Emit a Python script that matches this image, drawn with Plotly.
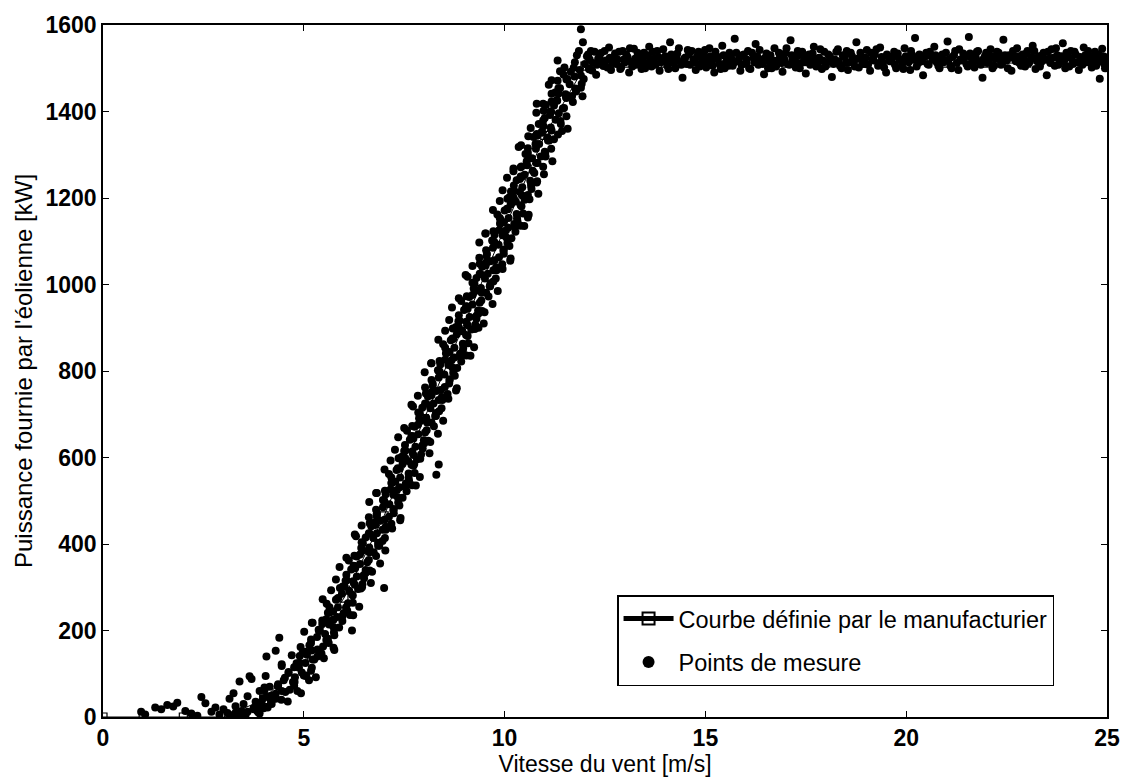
import plotly.graph_objects as go

# Manufacturer power curve (integer wind speeds, m/s -> kW)
curve_ws = list(range(0, 26))
curve_kw = [0, 0, 0, 0, 40, 140, 275, 465, 690, 910, 1130, 1345, 1505,
            1512, 1512, 1512, 1512, 1512, 1512, 1512, 1512, 1512, 1512, 1512, 1512, 1512]

# Measured points, low wind (cut-in zone)
low_ws = [0.95, 1.05, 1.3, 1.45, 1.6, 1.75, 1.85, 2.05, 2.2, 2.35, 2.45, 2.55, 2.7, 2.8,
          2.9, 3.0, 3.1, 3.15, 3.25, 3.3, 3.4, 3.45, 3.5, 3.55, 3.6, 3.65, 3.7, 3.75, 3.8,
          3.85, 3.9, 3.95, 4.0, 4.05, 4.1, 4.15, 4.2, 4.3, 4.39, 4.07, 4.84, 5.3, 3.2, 3.35,
          3.3, 3.45, 3.6, 3.75, 3.85, 3.95, 4.1, 4.2, 4.3, 4.45, 3.9, 4.0]
low_kw = [12, 6, 22, 18, 28, 24, 33, 14, 8, 3, 46, 32, 12, 22,
          6, 18, 9, 42, 55, 25, 82, 14, 30, 5, 48, 94, 88, 20, 35,
          12, 60, 28, 44, 95, 22, 70, 38, 153, 183, 140, 60, 92, 4, 2,
          10, 8, 12, 18, 25, 35, 48, 30, 42, 60, 8, 20]

# Measured points, rising part of the curve (first pass)
rise_ws = [
    4.02, 4.18, 4.30, 4.44, 4.60, 4.35, 4.50, 4.65, 4.77, 4.93,
    4.45, 4.62, 4.78, 4.88, 5.00, 4.76, 4.90, 5.04, 5.18, 5.26,
    4.92, 5.08, 5.20, 5.34, 5.50, 5.18, 5.33, 5.48, 5.60, 5.76,
    5.20, 5.37, 5.53, 5.63, 5.75, 5.46, 5.60, 5.74, 5.88, 5.96,
    5.57, 5.73, 5.85, 5.99, 6.15, 5.80, 5.95, 6.10, 6.22, 6.38,
    5.80, 5.97, 6.13, 6.23, 6.35, 6.04, 6.18, 6.32, 6.46, 6.54,
    6.12, 6.28, 6.40, 6.54, 6.70, 6.32, 6.47, 6.62, 6.74, 6.90,
    6.30, 6.47, 6.63, 6.73, 6.85, 6.54, 6.68, 6.82, 6.96, 7.04,
    6.62, 6.78, 6.90, 7.04, 7.20, 6.82, 6.97, 7.12, 7.24, 7.40,
    6.80, 6.97, 7.13, 7.23, 7.35, 7.04, 7.18, 7.32, 7.46, 7.54,
    7.12, 7.28, 7.40, 7.54, 7.70, 7.31, 7.46, 7.61, 7.73, 7.89,
    7.27, 7.44, 7.60, 7.70, 7.82, 7.50, 7.64, 7.78, 7.92, 8.00,
    7.57, 7.73, 7.85, 7.99, 8.15, 7.76, 7.91, 8.06, 8.18, 8.34,
    7.72, 7.89, 8.05, 8.15, 8.27, 7.95, 8.09, 8.23, 8.37, 8.45,
    8.02, 8.18, 8.30, 8.44, 8.60, 8.21, 8.36, 8.51, 8.63, 8.79,
    8.17, 8.34, 8.50, 8.60, 8.72, 8.40, 8.54, 8.68, 8.82, 8.90,
    8.47, 8.63, 8.75, 8.89, 9.05, 8.66, 8.81, 8.96, 9.08, 9.24,
    8.62, 8.79, 8.95, 9.05, 9.17, 8.85, 8.99, 9.13, 9.27, 9.35,
    8.92, 9.08, 9.20, 9.34, 9.50, 9.12, 9.27, 9.42, 9.54, 9.70,
    9.08, 9.25, 9.41, 9.51, 9.63, 9.30, 9.44, 9.58, 9.72, 9.80,
    9.37, 9.53, 9.65, 9.79, 9.95, 9.56, 9.71, 9.86, 9.98, 10.14,
    9.52, 9.69, 9.85, 9.95, 10.07, 9.75, 9.89, 10.03, 10.17, 10.25,
    9.82, 9.98, 10.10, 10.24, 10.40, 10.00, 10.15, 10.30, 10.42, 10.58,
    9.95, 10.12, 10.28, 10.38, 10.50, 10.16, 10.30, 10.44, 10.58, 10.66,
    10.22, 10.38, 10.50, 10.64, 10.80, 10.40, 10.55, 10.70, 10.82, 10.98,
    10.35, 10.52, 10.68, 10.78, 10.90, 10.58, 10.72, 10.86, 11.00, 11.08,
    10.65, 10.81, 10.93, 11.07, 11.23, 10.85, 11.00, 11.15, 11.27, 11.43,
    10.80, 10.97, 11.13, 11.23, 11.35, 11.03, 11.17, 11.31, 11.45, 11.53,
    11.10, 11.26, 11.38, 11.52, 11.68, 11.32, 11.47, 11.62, 11.74, 11.90,
    11.32, 11.49, 11.65, 11.75, 11.87, 11.90, 11.95, 11.85, 11.80, 11.97,
    7.00, 8.36, 8.30, 6.20, 10.60, 9.90, 5.05, 7.75, 6.45, 9.35,
]
rise_kw = [
    62, 44, 54, 40, 36, 71, 85, 63, 81, 55,
    118, 102, 92, 114, 96, 115, 141, 125, 107, 133,
    162, 144, 154, 140, 136, 171, 185, 163, 181, 155,
    218, 202, 192, 214, 196, 215, 241, 225, 207, 233,
    262, 244, 254, 240, 236, 271, 285, 263, 281, 255,
    318, 302, 292, 314, 296, 315, 341, 325, 307, 333,
    362, 344, 354, 340, 336, 371, 385, 363, 381, 355,
    418, 402, 392, 414, 396, 415, 441, 425, 407, 433,
    462, 444, 454, 440, 436, 471, 485, 463, 481, 455,
    518, 502, 492, 514, 496, 515, 541, 525, 507, 533,
    562, 544, 554, 540, 536, 571, 585, 563, 581, 555,
    618, 602, 592, 614, 596, 615, 641, 625, 607, 633,
    662, 644, 654, 640, 636, 671, 685, 663, 681, 655,
    718, 702, 692, 714, 696, 715, 741, 725, 707, 733,
    762, 744, 754, 740, 736, 771, 785, 763, 781, 755,
    818, 802, 792, 814, 796, 815, 841, 825, 807, 833,
    862, 844, 854, 840, 836, 871, 885, 863, 881, 855,
    918, 902, 892, 914, 896, 915, 941, 925, 907, 933,
    962, 944, 954, 940, 936, 971, 985, 963, 981, 955,
    1018, 1002, 992, 1014, 996, 1015, 1041, 1025, 1007, 1033,
    1062, 1044, 1054, 1040, 1036, 1071, 1085, 1063, 1081, 1055,
    1118, 1102, 1092, 1114, 1096, 1115, 1141, 1125, 1107, 1133,
    1162, 1144, 1154, 1140, 1136, 1171, 1185, 1163, 1181, 1155,
    1218, 1202, 1192, 1214, 1196, 1215, 1241, 1225, 1207, 1233,
    1262, 1244, 1254, 1240, 1236, 1271, 1285, 1263, 1281, 1255,
    1318, 1302, 1292, 1314, 1296, 1315, 1341, 1325, 1307, 1333,
    1362, 1344, 1354, 1340, 1336, 1371, 1385, 1363, 1381, 1355,
    1418, 1402, 1392, 1414, 1396, 1415, 1441, 1425, 1407, 1433,
    1462, 1444, 1454, 1440, 1436, 1471, 1485, 1463, 1481, 1455,
    1518, 1502, 1492, 1514, 1496, 1590, 1560, 1540, 1530, 1475,
    298, 584, 560, 200, 1161, 1150, 95, 585, 300, 900,
]

# Measured points, rising part of the curve (second pass)
rise2_ws = [
    4.02, 4.20, 4.36, 4.54, 4.76, 4.36, 4.53, 4.73, 4.95, 5.13,
    4.45, 4.62, 4.82, 5.06, 5.20, 4.70, 4.88, 5.04, 5.22, 5.44,
    4.97, 5.14, 5.34, 5.56, 5.74, 5.01, 5.18, 5.38, 5.62, 5.76,
    5.22, 5.40, 5.56, 5.74, 5.96, 5.46, 5.63, 5.83, 6.05, 6.23,
    5.47, 5.64, 5.84, 6.08, 6.22, 5.68, 5.86, 6.02, 6.20, 6.42,
    5.90, 6.07, 6.27, 6.49, 6.67, 5.89, 6.06, 6.26, 6.50, 6.64,
    6.06, 6.24, 6.40, 6.58, 6.80, 6.26, 6.43, 6.63, 6.85, 7.03,
    6.27, 6.44, 6.64, 6.88, 7.02, 6.44, 6.62, 6.78, 6.96, 7.18,
    6.64, 6.81, 7.01, 7.23, 7.41, 6.63, 6.80, 7.00, 7.24, 7.38,
    6.82, 7.00, 7.16, 7.34, 7.56, 7.02, 7.19, 7.39, 7.61, 7.79,
    7.01, 7.18, 7.38, 7.62, 7.76, 7.16, 7.34, 7.50, 7.68, 7.90,
    7.36, 7.53, 7.73, 7.95, 8.13, 7.35, 7.52, 7.72, 7.96, 8.10,
    7.50, 7.68, 7.84, 8.02, 8.24, 7.70, 7.87, 8.07, 8.29, 8.47,
    7.68, 7.85, 8.05, 8.29, 8.43, 7.84, 8.02, 8.18, 8.36, 8.58,
    8.04, 8.21, 8.41, 8.63, 8.81, 8.01, 8.18, 8.38, 8.62, 8.76,
    8.18, 8.36, 8.52, 8.70, 8.92, 8.38, 8.55, 8.75, 8.97, 9.15,
    8.35, 8.52, 8.72, 8.96, 9.10, 8.52, 8.70, 8.86, 9.04, 9.26,
    8.71, 8.88, 9.08, 9.30, 9.48, 8.69, 8.86, 9.06, 9.30, 9.44,
    8.86, 9.04, 9.20, 9.38, 9.60, 9.06, 9.23, 9.43, 9.65, 9.83,
    9.03, 9.20, 9.40, 9.64, 9.78, 9.20, 9.38, 9.54, 9.72, 9.94,
    9.38, 9.55, 9.75, 9.97, 10.15, 9.37, 9.54, 9.74, 9.98, 10.12,
    9.53, 9.71, 9.87, 10.05, 10.27, 9.72, 9.89, 10.09, 10.31, 10.49,
    9.71, 9.88, 10.08, 10.32, 10.46, 9.88, 10.06, 10.22, 10.40, 10.62,
    10.07, 10.24, 10.44, 10.66, 10.84, 10.06, 10.23, 10.43, 10.67, 10.81,
    10.22, 10.40, 10.56, 10.74, 10.96, 10.42, 10.59, 10.79, 11.01, 11.19,
    10.41, 10.58, 10.78, 11.02, 11.16, 10.59, 10.77, 10.93, 11.11, 11.33,
    10.80, 10.97, 11.17, 11.39, 11.57, 10.79, 10.96, 11.16, 11.40, 11.54,
    10.96, 11.14, 11.30, 11.48, 11.70, 11.17, 11.34, 11.54, 11.76, 11.94,
    11.17, 11.34, 11.54, 11.78, 11.92, 11.38, 11.56, 11.72, 11.90, 12.12,
]
rise2_kw = [
    68, 50, 76, 58, 72, 73, 91, 81, 103, 85,
    122, 104, 124, 96, 114, 143, 125, 151, 133, 147,
    148, 166, 156, 178, 160, 197, 179, 199, 171, 189,
    218, 200, 226, 208, 222, 223, 241, 231, 253, 235,
    272, 254, 274, 246, 264, 293, 275, 301, 283, 297,
    298, 316, 306, 328, 310, 347, 329, 349, 321, 339,
    368, 350, 376, 358, 372, 373, 391, 381, 403, 385,
    422, 404, 424, 396, 414, 443, 425, 451, 433, 447,
    448, 466, 456, 478, 460, 497, 479, 499, 471, 489,
    518, 500, 526, 508, 522, 523, 541, 531, 553, 535,
    572, 554, 574, 546, 564, 593, 575, 601, 583, 597,
    598, 616, 606, 628, 610, 647, 629, 649, 621, 639,
    668, 650, 676, 658, 672, 673, 691, 681, 703, 685,
    722, 704, 724, 696, 714, 743, 725, 751, 733, 747,
    748, 766, 756, 778, 760, 797, 779, 799, 771, 789,
    818, 800, 826, 808, 822, 823, 841, 831, 853, 835,
    872, 854, 874, 846, 864, 893, 875, 901, 883, 897,
    898, 916, 906, 928, 910, 947, 929, 949, 921, 939,
    968, 950, 976, 958, 972, 973, 991, 981, 1003, 985,
    1022, 1004, 1024, 996, 1014, 1043, 1025, 1051, 1033, 1047,
    1048, 1066, 1056, 1078, 1060, 1097, 1079, 1099, 1071, 1089,
    1118, 1100, 1126, 1108, 1122, 1123, 1141, 1131, 1153, 1135,
    1172, 1154, 1174, 1146, 1164, 1193, 1175, 1201, 1183, 1197,
    1198, 1216, 1206, 1228, 1210, 1247, 1229, 1249, 1221, 1239,
    1268, 1250, 1276, 1258, 1272, 1273, 1291, 1281, 1303, 1285,
    1322, 1304, 1324, 1296, 1314, 1343, 1325, 1351, 1333, 1347,
    1348, 1366, 1356, 1378, 1360, 1397, 1379, 1399, 1371, 1389,
    1418, 1400, 1426, 1408, 1422, 1423, 1441, 1431, 1453, 1435,
    1472, 1454, 1474, 1446, 1464, 1493, 1475, 1501, 1483, 1497,
]

# Measured points, rated-power plateau (first pass)
plateau_ws = [
    12.05, 12.1, 12.15, 12.2, 12.28, 12.33, 12.4, 12.46, 12.52, 12.6, 12.65, 12.72, 12.78,
    12.85, 12.9, 12.97, 13.03, 13.1, 13.15, 13.22, 13.28, 13.35, 13.41, 13.47, 13.55, 13.6,
    13.66, 13.72, 13.8, 13.86, 13.92, 14.0, 14.05, 14.12, 14.18, 14.25, 14.3, 14.38, 14.43,
    14.5, 14.56, 14.62, 14.7, 14.76, 14.83, 14.9, 14.96, 15.02, 15.1, 15.15, 15.22, 15.28,
    15.35, 15.42, 15.48, 15.55, 15.6, 15.68, 15.73, 15.8, 15.87, 15.92, 16.0, 16.06, 16.12,
    16.2, 16.25, 16.32, 16.4, 16.46, 16.52, 16.6, 16.65, 16.72, 16.8, 16.86, 16.92, 17.0,
    17.05, 17.12, 17.18, 17.25, 17.3, 17.38, 17.45, 17.5, 17.58, 17.63, 17.7, 17.76, 17.83,
    17.9, 17.96, 18.03, 18.1, 18.15, 18.22, 18.3, 18.35, 18.42, 18.5, 18.55, 18.62, 18.7,
    18.76, 18.82, 18.9, 18.95, 19.02, 19.1, 19.15, 19.22, 19.3, 19.35, 19.42, 19.5, 19.55,
    19.62, 19.7, 19.75, 19.82, 19.9, 19.96, 20.02, 20.1, 20.15, 20.22, 20.3, 20.36, 20.42,
    20.5, 20.56, 20.62, 20.7, 20.76, 20.83, 20.9, 20.96, 21.03, 21.1, 21.15, 21.22, 21.3,
    21.35, 21.42, 21.5, 21.56, 21.62, 21.7, 21.76, 21.82, 21.9, 21.96, 22.02, 22.1, 22.15,
    22.22, 22.3, 22.36, 22.42, 22.5, 22.56, 22.62, 22.7, 22.76, 22.82, 22.9, 22.96, 23.02,
    23.1, 23.15, 23.22, 23.3, 23.36, 23.42, 23.5, 23.56, 23.62, 23.7, 23.76, 23.82, 23.9,
    23.96, 24.02, 24.1, 24.15, 24.22, 24.3, 24.36, 24.42, 24.5, 24.56, 24.62, 24.7, 24.76,
    24.82, 24.88, 24.93, 24.97,
]
plateau_kw = [
    1528, 1498, 1540, 1512, 1485, 1522, 1535, 1505, 1518, 1548, 1496, 1525, 1510,
    1538, 1502, 1520, 1532, 1490, 1515, 1545, 1508, 1526, 1498, 1536, 1512, 1550,
    1504, 1522, 1540, 1494, 1518, 1528, 1506, 1560, 1520, 1500, 1534, 1514, 1478,
    1525, 1542, 1508, 1520, 1496, 1538, 1512, 1530, 1502, 1546, 1518, 1490, 1528,
    1510, 1552, 1500, 1522, 1536, 1506, 1568, 1516, 1494, 1530, 1512, 1540, 1498,
    1524, 1556, 1508, 1520, 1486, 1534, 1514, 1500, 1546, 1518, 1528, 1492, 1536,
    1510, 1565, 1522, 1502, 1540, 1512, 1526, 1488, 1532, 1516, 1550, 1504, 1524,
    1498, 1538, 1514, 1528, 1480, 1520, 1544, 1506, 1530, 1512, 1496, 1536, 1518,
    1560, 1502, 1526, 1510, 1542, 1494, 1520, 1532, 1506, 1548, 1514, 1490, 1528,
    1516, 1538, 1500, 1522, 1510, 1546, 1518, 1496, 1530, 1570, 1512, 1524, 1484,
    1536, 1508, 1528, 1550, 1514, 1500, 1532, 1518, 1562, 1506, 1526, 1540, 1496,
    1520, 1534, 1510, 1572, 1524, 1502, 1538, 1516, 1478, 1528, 1512, 1544, 1500,
    1522, 1536, 1508, 1566, 1518, 1530, 1494, 1524, 1546, 1512, 1532, 1504, 1540,
    1520, 1552, 1498, 1528, 1514, 1536, 1484, 1522, 1544, 1506, 1530, 1516, 1558,
    1500, 1526, 1540, 1510, 1532, 1496, 1520, 1548, 1514, 1528, 1502, 1538, 1518,
    1476, 1545, 1510, 1525,
]

# Measured points, rated-power plateau (second pass)
plateau2_ws = [
    12.0, 12.08, 12.12, 12.18, 12.24, 12.3, 12.36, 12.43, 12.49, 12.56, 12.62, 12.68, 12.75,
    12.81, 12.88, 12.94, 13.0, 13.06, 13.12, 13.18, 13.25, 13.31, 13.38, 13.44, 13.5, 13.57,
    13.63, 13.69, 13.76, 13.83, 13.89, 13.95, 14.02, 14.08, 14.15, 14.21, 14.28, 14.34, 14.4,
    14.47, 14.53, 14.59, 14.66, 14.73, 14.79, 14.86, 14.93, 14.99, 15.05, 15.12, 15.18, 15.25,
    15.31, 15.38, 15.45, 15.51, 15.58, 15.64, 15.7, 15.77, 15.84, 15.9, 15.96, 16.03, 16.09,
    16.16, 16.22, 16.29, 16.35, 16.43, 16.49, 16.56, 16.62, 16.69, 16.76, 16.83, 16.89, 16.96,
    17.02, 17.09, 17.15, 17.22, 17.28, 17.35, 17.41, 17.48, 17.55, 17.61, 17.67, 17.73, 17.8,
    17.86, 17.93, 17.99, 18.06, 18.13, 18.19, 18.26, 18.32, 18.39, 18.46, 18.52, 18.59, 18.65,
    18.72, 18.79, 18.86, 18.92, 18.99, 19.05, 19.12, 19.19, 19.26, 19.32, 19.39, 19.45, 19.52,
    19.59, 19.65, 19.72, 19.79, 19.85, 19.93, 19.99, 20.06, 20.12, 20.19, 20.26, 20.33, 20.39,
    20.46, 20.53, 20.59, 20.66, 20.73, 20.8, 20.86, 20.93, 20.99, 21.06, 21.13, 21.19, 21.26,
    21.32, 21.39, 21.46, 21.53, 21.59, 21.66, 21.73, 21.79, 21.86, 21.93, 21.99, 22.06, 22.12,
    22.19, 22.26, 22.33, 22.39, 22.46, 22.53, 22.59, 22.66, 22.73, 22.79, 22.86, 22.93, 22.99,
    23.06, 23.12, 23.19, 23.26, 23.33, 23.39, 23.46, 23.53, 23.59, 23.66, 23.73, 23.79, 23.86,
    23.93, 23.99, 24.06, 24.12, 24.19, 24.26, 24.33, 24.39, 24.46, 24.53, 24.59, 24.66, 24.73,
    24.79, 24.85, 24.91, 24.95,
]
plateau2_kw = [
    1510, 1532, 1520, 1495, 1538, 1508, 1528, 1515, 1540, 1502, 1524, 1512, 1534,
    1520, 1498, 1540, 1514, 1526, 1546, 1504, 1522, 1536, 1512, 1520, 1500, 1530,
    1518, 1538, 1508, 1526, 1514, 1544, 1520, 1498, 1532, 1512, 1524, 1546, 1508,
    1522, 1510, 1532, 1540, 1514, 1526, 1504, 1520, 1542, 1516, 1528, 1506, 1538,
    1520, 1498, 1530, 1514, 1506, 1524, 1512, 1536, 1524, 1508, 1532, 1520, 1500,
    1536, 1514, 1528, 1542, 1510, 1524, 1500, 1530, 1518, 1504, 1536, 1512, 1522,
    1546, 1508, 1530, 1516, 1528, 1500, 1538, 1514, 1520, 1508, 1534, 1522, 1512,
    1544, 1518, 1504, 1532, 1520, 1510, 1538, 1516, 1500, 1526, 1540, 1514, 1528,
    1504, 1522, 1536, 1512, 1524, 1508, 1536, 1518, 1544, 1512, 1526, 1502, 1532,
    1516, 1524, 1508, 1534, 1520, 1498, 1528, 1514, 1540, 1520, 1504, 1532, 1516,
    1526, 1510, 1538, 1520, 1530, 1506, 1524, 1514, 1536, 1520, 1500, 1530, 1512,
    1544, 1518, 1526, 1504, 1534, 1514, 1526, 1540, 1508, 1522, 1536, 1516, 1528,
    1506, 1538, 1520, 1512, 1530, 1500, 1524, 1540, 1516, 1528, 1506, 1520, 1534,
    1512, 1526, 1540, 1516, 1504, 1530, 1520, 1538, 1512, 1524, 1546, 1508, 1528,
    1516, 1536, 1504, 1522, 1538, 1514, 1526, 1508, 1530, 1540, 1516, 1522, 1506,
    1532, 1516, 1528, 1500,
]

meas_ws = low_ws + rise_ws + rise2_ws + plateau_ws + plateau2_ws
meas_kw = low_kw + rise_kw + rise2_kw + plateau_kw + plateau2_kw

FONT = "Liberation Sans, Arial, Helvetica, sans-serif"

fig = go.Figure()

fig.add_trace(go.Scatter(
    x=curve_ws, y=curve_kw, mode="lines+markers",
    name="Courbe définie par le manufacturier", legendgroup="curve",
    line=dict(color="black", width=1),
    marker=dict(symbol="square-open", size=8, color="black", line=dict(width=1.2)),
))

fig.add_trace(go.Scatter(
    x=meas_ws, y=meas_kw, mode="markers",
    name="Points de mesure", legendgroup="points",
    marker=dict(symbol="circle", size=8, color="black", line=dict(width=0)),
))

axis_common = dict(
    showgrid=False, zeroline=False, showline=True, linecolor="black", linewidth=1.5,
    mirror="ticks", ticks="inside", ticklen=6, tickwidth=1.2, tickcolor="black",
    tickfont=dict(family=FONT, size=23, color="black", weight="bold"),
)

fig.update_xaxes(
    range=[0, 25], tickvals=[0, 5, 10, 15, 20, 25],
    title=dict(text="Vitesse du vent [m/s]", font=dict(family=FONT, size=23, color="black"),
               standoff=1),
    **axis_common,
)
fig.update_yaxes(
    range=[0, 1600], tickvals=[0, 200, 400, 600, 800, 1000, 1200, 1400, 1600],
    title=dict(text="Puissance fournie par l'éolienne [kW]",
               font=dict(family=FONT, size=24, color="black"), standoff=6),
    **axis_common,
)

fig.update_layout(
    width=1132, height=780,
    margin=dict(l=103, r=19, t=25, b=57),
    paper_bgcolor="white", plot_bgcolor="white",
    showlegend=True,
    legend=dict(
        x=0.512, y=0.176, xanchor="left", yanchor="top",
        bgcolor="white", bordercolor="black", borderwidth=1.5,
        font=dict(family=FONT, size=23.5, color="black"),
        itemsizing="constant", itemwidth=50, tracegroupgap=10,
    ),
)

fig.write_html("out.html")
